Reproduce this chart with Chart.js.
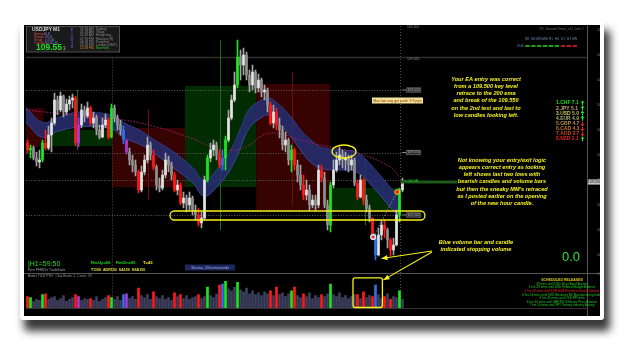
<!DOCTYPE html>
<html><head><meta charset="utf-8">
<script src="https://cdn.jsdelivr.net/npm/chart.js@4.4.1/dist/chart.umd.min.js"></script>
<style>
html,body{margin:0;padding:0;background:#fff;width:625px;height:340px;overflow:hidden}
#frame{position:absolute;left:20px;top:21px;width:576px;height:291px;padding:4px;background:#fff;box-shadow:5px 10px 9px 1px rgba(0,0,0,0.78);border-radius:3px}
#inner{position:relative;width:576px;height:291px;background:#000}
canvas{display:block}
</style></head><body>
<div id="frame"><div id="inner"><canvas id="c" width="576" height="291"></canvas></div></div>
<script>
// ---------------- DATA ----------------
const firstOpen = 109.5576;
const closes = [109.552,109.5536,109.5456,109.5424,109.544,109.5576,109.5536,109.564,109.5736,109.592,
 109.584,109.5952,109.5824,109.5888,109.592,109.5936,109.5576,109.572,109.584,109.5792,
 109.5856,109.5736,109.5776,109.568,109.5624,109.572,109.576,109.5624,109.5856,109.5776,
 109.572,109.568,109.560,109.5504,109.544,109.540,109.5344,109.520,109.5344,109.544,
 109.556,109.548,109.5384,109.524,109.5216,109.532,109.544,109.540,109.532,109.520,
 109.524,109.5096,109.5136,109.508,109.5136,109.504,109.500,109.4936,109.4976,109.528,
 109.5456,109.552,109.556,109.548,109.540,109.5456,109.560,109.5776,109.592,109.604,
 109.6264,109.620,109.628,109.612,109.604,109.6144,109.6016,109.608,109.5984,109.600,
 109.588,109.5736,109.5824,109.572,109.568,109.556,109.560,109.544,109.552,109.540,
 109.532,109.524,109.516,109.520,109.508,109.512,109.508,109.536,109.5296,109.508,
 109.492,109.524,109.536,109.544,109.548,109.544,109.5456,109.540,109.544,109.5256,
 109.5144,109.528,109.512,109.5056,109.4976,109.4824,109.468,109.484,109.492,109.488,
 109.480,109.472,109.476,109.500,109.520,109.5264];
const highs = [109.560,109.556,109.5552,109.5504,109.552,109.560,109.568,109.5712,109.5776,109.5976,
 109.5952,109.5984,109.596,109.5928,109.5952,109.5968,109.5952,109.5776,109.5888,109.5872,
 109.5904,109.5872,109.5824,109.580,109.572,109.5776,109.5808,109.5776,109.5888,109.588,
 109.580,109.576,109.5712,109.560,109.5536,109.548,109.544,109.536,109.5392,109.548,
 109.5624,109.5584,109.552,109.540,109.5296,109.536,109.5496,109.5472,109.5424,109.5344,
 109.528,109.5256,109.5184,109.516,109.5184,109.5152,109.508,109.5056,109.5024,109.5312,
 109.548,109.5576,109.560,109.5584,109.552,109.552,109.5632,109.584,109.596,109.6144,
 109.640,109.632,109.6336,109.6304,109.616,109.620,109.616,109.6128,109.6096,109.604,
 109.6016,109.5904,109.588,109.5856,109.5776,109.5712,109.5664,109.5616,109.556,109.5536,
 109.544,109.540,109.532,109.528,109.524,109.516,109.516,109.540,109.540,109.5344,
 109.512,109.5264,109.544,109.5504,109.5544,109.552,109.5504,109.548,109.548,109.5456,
 109.528,109.532,109.5296,109.516,109.508,109.4976,109.4848,109.4896,109.496,109.496,
 109.4896,109.4816,109.4816,109.504,109.5216,109.5296];
const lows = [109.5496,109.5456,109.544,109.5392,109.5376,109.5424,109.552,109.552,109.5504,109.572,
 109.580,109.5824,109.5784,109.580,109.584,109.5856,109.5552,109.5544,109.5696,109.5744,
 109.5776,109.572,109.5696,109.564,109.5608,109.5616,109.5696,109.5608,109.5616,109.5744,
 109.568,109.564,109.5568,109.5488,109.540,109.5344,109.5312,109.5176,109.5184,109.532,
 109.5416,109.544,109.536,109.520,109.5184,109.520,109.5296,109.5344,109.528,109.5184,
 109.516,109.508,109.5056,109.5024,109.504,109.500,109.496,109.4912,109.4896,109.496,
 109.5264,109.5424,109.5472,109.544,109.5376,109.536,109.536,109.5584,109.576,109.5904,
 109.6016,109.608,109.612,109.608,109.5984,109.600,109.5976,109.5984,109.5944,109.592,
 109.5824,109.572,109.5696,109.568,109.5616,109.552,109.5504,109.540,109.5344,109.536,
 109.5264,109.520,109.512,109.512,109.504,109.5056,109.504,109.5056,109.5264,109.5056,
 109.488,109.4864,109.5216,109.5344,109.540,109.5376,109.536,109.5344,109.536,109.5232,
 109.512,109.5136,109.508,109.5024,109.4944,109.480,109.464,109.4672,109.480,109.4816,
 109.4736,109.4672,109.468,109.4752,109.4944,109.5184];
const volumes = [60,55,35,45,40,70,75,45,55,60, 40,50,65,35,45,55,70,60,40,50,
 45,50,40,60,35,45,55,65,55,45, 60,40,70,75,50,60,45,105,65,55,
 70,45,85,60,50,65,45,55,40,80, 60,70,50,65,45,55,60,70,50,60,
 110,65,55,75,120,125,140,100,90,110, 135,95,85,105,75,90,70,80,65,85,
 75,90,65,110,70,80,60,75,90,110, 65,55,75,60,80,50,65,55,70,60,
 75,125,70,60,80,55,65,50,60,70, 70,50,85,55,65,60,120,70,50,60,
 75,45,60,55,90,45];
const redBars = [0,6,16,21,27,37,42,49,51,57,64,81,83,89,92,98,110,112,115,119,121];
const greenBars = [1,5,28,60,66,70,88,101,124];
const blueBars = [32,65,116];
const purpleBars = [17,33];

const emaX = [-0.5,5,10,16,21,28,32,38,43,49,55,59,64,68,71,74,78,80,83,88,91,94,98,105,110,116,121,124];
const emaUpper = [109.586,109.574,109.578,109.582,109.582,109.580,109.574,109.567,109.559,109.550,109.538,109.528,109.539,109.553,109.569,109.585,109.592,109.594,109.590,109.578,109.568,109.561,109.554,109.552,109.550,109.536,109.522,109.514];
const emaLower = [109.574,109.562,109.567,109.570,109.571,109.569,109.562,109.556,109.548,109.537,109.526,109.515,109.525,109.538,109.554,109.570,109.578,109.580,109.575,109.562,109.552,109.543,109.537,109.536,109.534,109.520,109.506,109.498];
const ema200X = [-0.5,15.5,32,43,54.5,62.5,69,74,78,81,86,91,97.5,110,121,124];
const ema200 = [109.584,109.580,109.576,109.5704,109.5616,109.5536,109.552,109.556,109.5632,109.5656,109.564,109.560,109.556,109.5496,109.5384,109.5304];

const sessStart = [-0.5,7,28.2,52.5,76.2,100.8];
const sessEnd   = [5.3,28.2,52.5,76.2,100.8,124.2];
const sessHigh  = [109.5856,109.568,109.5696,109.6032,109.6048,109.5216];
const sessLow   = [109.5544,109.5552,109.5224,109.5224,109.504,109.504];
const sessBull  = [false,true,false,true,false,true];
const sessLineX   = [16.5,40.2,64.2,88.2,112.5];
const sessLineTop = [109.600,109.584,109.640,109.6144,109.544];
const sessLineBot = [109.552,109.512,109.488,109.508,109.492];
const sessLineBull= [true,false,true,false,true];

const keyLevels = [109.600,109.550,109.500];
const gridLevels = [109.528];
const topLevel = 109.626;

const priceTicks = [109.648,109.638,109.628,109.618,109.608,109.598,109.588,109.578,109.568,109.558,
 109.548,109.538,109.528,109.518,109.508,109.498,109.488,109.478,109.468,109.458];
const volTicks = [179];
const timeLabels = ['12 Apr 17:13','12 Apr 17:19','12 Apr 17:25','12 Apr 17:31','12 Apr 17:37','12 Apr 17:43','12 Apr 17:49',
 '12 Apr 17:55','12 Apr 18:01','12 Apr 18:07','12 Apr 18:13','12 Apr 18:19','12 Apr 18:25','12 Apr 18:31',
 '12 Apr 18:37','12 Apr 18:43','12 Apr 18:49','12 Apr 18:55','12 Apr 19:01','12 Apr 19:07','12 Apr 19:13'];

const strengthNames = ['1.CHF 7.1','2.JPY 5.1','3.USD 5.0','4.EUR 4.9','5.GBP 4.7','6.CAD 4.3','7.AUD 2.7','8.NZD 2.1'];
const strengthUp = [true,true,true,true,false,false,false,true];
const timeframes = ['M1','M5','M15','M30','H1','H4','D1','W1','MN'];
const tfBull = [true,true,true,true,true,true,false,false,false];

// ---------------- BUILD ----------------
const N = closes.length;
const opens = closes.map((c,i)=> i===0 ? firstOpen : closes[i-1]);
function markColor(i){
  if (redBars.includes(i)) return '#ff1a1a';
  if (greenBars.includes(i)) return '#1ee61e';
  if (blueBars.includes(i)) return '#2f72e6';
  if (purpleBars.includes(i)) return '#a83ad6';
  return null;
}
const bodyColors = closes.map((c,i)=> markColor(i) || (c >= opens[i] ? '#e4e4e4' : '#8e8e8e'));
const wickColors = closes.map((c,i)=> markColor(i) || '#a6a6a6');
const volColors = volumes.map((v,i)=> markColor(i) || '#3d3f5e');

const F = '"Liberation Sans", Arial, sans-serif';
const fnt = (sz, w='normal', st='normal') => `${st} ${w} ${sz}px ${F}`;

function T(ctx, s, x, y, sz, col, align='left', w='normal', st='normal'){
  ctx.font = fnt(sz,w,st); ctx.fillStyle = col; ctx.textAlign = align; ctx.textBaseline = 'middle';
  ctx.fillText(s, x, y);
}
function arrow(ctx, x0,y0,x1,y1, col){
  ctx.strokeStyle = col; ctx.fillStyle = col; ctx.lineWidth = 1.1;
  ctx.beginPath(); ctx.moveTo(x0,y0); ctx.lineTo(x1,y1); ctx.stroke();
  const a = Math.atan2(y1-y0, x1-x0), L = 6, W = 2.6;
  ctx.beginPath(); ctx.moveTo(x1,y1);
  ctx.lineTo(x1 - L*Math.cos(a) + W*Math.sin(a), y1 - L*Math.sin(a) - W*Math.cos(a));
  ctx.lineTo(x1 - L*Math.cos(a) - W*Math.sin(a), y1 - L*Math.sin(a) + W*Math.cos(a));
  ctx.closePath(); ctx.fill();
}
function rrect(ctx, x, y, w, h, r){
  ctx.beginPath();
  ctx.moveTo(x+r,y); ctx.lineTo(x+w-r,y); ctx.arcTo(x+w,y,x+w,y+r,r);
  ctx.lineTo(x+w,y+h-r); ctx.arcTo(x+w,y+h,x+w-r,y+h,r);
  ctx.lineTo(x+r,y+h); ctx.arcTo(x,y+h,x,y+h-r,r);
  ctx.lineTo(x,y+r); ctx.arcTo(x,y,x+r,y,r); ctx.closePath();
}

const bgPlugin = {
  id: 'bg',
  beforeDatasetsDraw(chart){
    const {ctx, chartArea: ca} = chart; const {x, y, yv} = chart.scales;
    ctx.save();
    for (let k=0;k<sessStart.length;k++){
      const x0 = x.getPixelForValue(sessStart[k]), x1 = x.getPixelForValue(sessEnd[k]);
      const y0 = y.getPixelForValue(sessHigh[k]), y1 = y.getPixelForValue(sessLow[k]);
      ctx.fillStyle = sessBull[k] ? '#012c01' : '#360202';
      ctx.fillRect(x0, y0, x1-x0, y1-y0);
    }
    ctx.strokeStyle = '#2a302a'; ctx.lineWidth = 1.5;
    let yy = y.getPixelForValue(topLevel);
    ctx.beginPath(); ctx.moveTo(ca.left, yy); ctx.lineTo(ca.right, yy); ctx.stroke();
    ctx.setLineDash([1,1.6]); ctx.lineWidth = 1; ctx.strokeStyle = '#5c5c5c';
    const xEnd = x.getPixelForValue(125.2);
    keyLevels.concat(gridLevels).forEach(p=>{
      const py = Math.round(y.getPixelForValue(p))+0.5;
      ctx.beginPath(); ctx.moveTo(ca.left, py); ctx.lineTo(xEnd, py); ctx.stroke();
    });
    ctx.strokeStyle = '#4c4c4c'; ctx.setLineDash([1,2]);
    let vx = Math.round(x.getPixelForValue(28.2))+0.5;
    ctx.beginPath(); ctx.moveTo(vx, y.getPixelForValue(topLevel)); ctx.lineTo(vx, yv.bottom); ctx.stroke();
    vx = Math.round(x.getPixelForValue(124.2))+0.5;
    ctx.beginPath(); ctx.moveTo(vx, ca.top); ctx.lineTo(vx, yv.bottom); ctx.stroke();
    ctx.setLineDash([]);
    for (let k=0;k<sessLineX.length;k++){
      const sx = Math.round(x.getPixelForValue(sessLineX[k]))+0.5;
      ctx.strokeStyle = sessLineBull[k] ? '#1d6a1d' : '#6e1010';
      ctx.beginPath(); ctx.moveTo(sx, y.getPixelForValue(sessLineTop[k])); ctx.lineTo(sx, y.getPixelForValue(sessLineBot[k])); ctx.stroke();
    }
    ctx.strokeStyle = '#555'; ctx.lineWidth = 1;
    const sy = Math.round(yv.top)+0.5;
    ctx.beginPath(); ctx.moveTo(0, sy); ctx.lineTo(chart.width, sy); ctx.stroke();
    const rx = Math.round(ca.right)+0.5;
    ctx.beginPath(); ctx.moveTo(rx, 0); ctx.lineTo(rx, chart.height); ctx.stroke();
    ctx.strokeStyle = '#333';
    const by = Math.round(yv.bottom)+0.5;
    ctx.beginPath(); ctx.moveTo(ca.left, by); ctx.lineTo(ca.right, by); ctx.stroke();
    ctx.restore();
  }
};

const annPlugin = {
  id: 'ann',
  afterDraw(chart){
    const {ctx, chartArea: ca} = chart; const {x, y, yv} = chart.scales;
    const YEL = '#f6f21c';
    ctx.save();
    ctx.strokeStyle = YEL; ctx.lineWidth = 1.3;
    ctx.beginPath(); ctx.ellipse(x.getPixelForValue(105.5), y.getPixelForValue(109.5508), 12, 6.5, 0, 0, Math.PI*2); ctx.stroke();
    const sx0 = x.getPixelForValue(47.5), sx1 = x.getPixelForValue(132.5), scy = y.getPixelForValue(109.4996);
    rrect(ctx, sx0, scy-4.5, sx1-sx0, 9, 4.5); ctx.stroke();
    const vx0 = x.getPixelForValue(108.5), vx1 = x.getPixelForValue(118.3), vy0 = yv.getPixelForValue(158);
    rrect(ctx, vx0, vy0, vx1-vx0, yv.bottom - vy0 - 0.5, 2); ctx.stroke();
    const lastY = y.getPixelForValue(closes[N-1]);
    ctx.strokeStyle = '#1b5a1b'; ctx.lineWidth = 3;
    ctx.beginPath(); ctx.moveTo(x.getPixelForValue(124.4), lastY); ctx.lineTo(457-24, lastY); ctx.stroke();
    T(ctx, '< 00:58', x.getPixelForValue(125.5), lastY-1.5, 4.2, '#2ee02e');
    const m1x = x.getPixelForValue(115.2), m1y = y.getPixelForValue(109.4824);
    const m2x = x.getPixelForValue(123.2), m2y = y.getPixelForValue(109.5184);
    ctx.strokeStyle = '#9a9a9a'; ctx.lineWidth = 0.8; ctx.setLineDash([1.5,1.5]);
    ctx.beginPath(); ctx.moveTo(m1x, m1y); ctx.lineTo(m2x, m2y); ctx.stroke(); ctx.setLineDash([]);
    ctx.beginPath(); ctx.arc(m1x, m1y, 2.4, 0, Math.PI*2); ctx.fillStyle='#d04040'; ctx.fill();
    ctx.strokeStyle = '#ffffff'; ctx.lineWidth = 1.2; ctx.stroke();
    ctx.beginPath(); ctx.arc(m2x, m2y, 2.4, 0, Math.PI*2); ctx.fillStyle='#ee2020'; ctx.fill();
    ctx.strokeStyle = '#f0d020'; ctx.lineWidth = 1; ctx.stroke();
    arrow(ctx, 432-24, 251-25, x.getPixelForValue(118), y.getPixelForValue(109.4652), YEL);
    arrow(ctx, 432-24, 252-25, vx1+1, vy0+2, YEL);
    const lx = x.getPixelForValue(125.2);
    keyLevels.forEach(p=>{
      const py = y.getPixelForValue(p);
      ctx.strokeStyle = '#888'; ctx.lineWidth = 1;
      ctx.beginPath(); ctx.moveTo(lx-1, py); ctx.lineTo(lx+3, py); ctx.stroke();
      ctx.fillStyle = '#2c2c2c'; ctx.fillRect(lx+3, py-2.6, 15, 5.2);
      ctx.strokeStyle = '#555'; ctx.strokeRect(lx+3.5, py-2.1, 14, 4.2);
      T(ctx, p.toFixed(3), lx+10.5, py, 3.4, '#aaa', 'center');
    });
    T(ctx, '109.650', lx+4, 2.5, 3.4, '#888');
    T(ctx, topLevel.toFixed(3), lx+4, y.getPixelForValue(topLevel)+2, 3.4, '#888');
    ctx.fillStyle = '#c4c4c4'; ctx.fillRect(ca.right+1, lastY-2.6, 12, 5.2);
    T(ctx, closes[N-1].toFixed(3), ca.right+7, lastY, 3.4, '#000', 'center');

    ctx.translate(-24, -25);
    ctx.fillStyle = '#1a1a1a'; ctx.fillRect(26, 26, 93.5, 26);
    ctx.strokeStyle = '#4e4e4e'; ctx.lineWidth = 1; ctx.strokeRect(26.5, 26.5, 93, 25.5);
    T(ctx, 'USDJPY', 32, 30, 5, '#d8d8d8', 'left', 'bold');
    T(ctx, 'M1', 53, 30, 5, '#d8d8d8', 'left', 'bold');
    [['Spread','0.8'],['Range','16.8'],['Swap','L:0.05'],['Candle','00:00:10']].forEach((r,k)=>{
      T(ctx, r[0], 34, 34+k*2.9, 3.4, '#d04a4a');
      T(ctx, r[1], 45, 34+k*2.9, 3.4, '#8484ea');
    });
    T(ctx, '109.55', 36, 47.8, 8.5, '#22e022', 'left', 'bold');
    T(ctx, '3', 63, 48.5, 4.5, '#bbbbbb');
    ['P','I','V','O','T','S'].forEach((c,k)=> T(ctx, c, 72, 30+k*3.4, 3.6, '#5a5ad8', 'center', 'bold'));
    const tms = ['02:18 AM','01:18 AM','00:18 AM','07:18 PM','06:18 PM','05:18 PM','12:18 PM'];
    const cts = ['Sydney','Tokyo','HongKong','Moscow (R)','Frankfurt','London (GMT)','NewYork'];
    tms.forEach((t,k)=>{
      T(ctx, t, 80, 29.5+k*3.05, 3.2, k===6?'#e08a20':'#8c8c8c');
      T(ctx, cts[k], 96, 29.5+k*3.05, 3.2, k===6?'#22cc22':'#8c8c8c');
    });
    T(ctx, 'FX_SessionTimes_v12_Info \u00a9', 584, 29, 3.3, '#6e6e6e', 'right');
    timeframes.forEach((tf,k)=>{
      const cx = 527.5 + k*5.9;
      T(ctx, tf, cx, 39, 3.1, '#6f8fb8', 'center');
      ctx.strokeStyle = tfBull[k] ? '#22cc22' : '#dd2222'; ctx.lineWidth = 1.6;
      ctx.beginPath(); ctx.moveTo(cx-2.2, 46); ctx.lineTo(cx+2.2, 46); ctx.stroke();
    });
    T(ctx, 'EMA', 523.5, 46, 3, '#4a6aa0', 'right');
    strengthNames.forEach((s,k)=>{
      const cols = ['#22dd22','#c8a878','#c8c050','#a8b070','#b89050','#c87828','#d04818','#e02020'];
      const yy = 103 + k*5.15;
      T(ctx, s, 556, yy, 5, cols[k], 'left', 'bold');
      const up = strengthUp[k]; const c = up ? '#22ee22' : '#ee2222';
      ctx.strokeStyle = c; ctx.fillStyle = c; ctx.lineWidth = 1;
      ctx.beginPath(); ctx.moveTo(582.5, yy-2.2); ctx.lineTo(582.5, yy+2.2); ctx.stroke();
      ctx.beginPath();
      if (up){ ctx.moveTo(580.5, yy-0.3); ctx.lineTo(584.5, yy-0.3); ctx.lineTo(582.5, yy-2.6); }
      else { ctx.moveTo(580.5, yy+0.3); ctx.lineTo(584.5, yy+0.3); ctx.lineTo(582.5, yy+2.6); }
      ctx.closePath(); ctx.fill();
    });
    ctx.fillStyle = '#efe39a'; ctx.fillRect(372, 97.5, 51, 6);
    T(ctx, 'Max last avg got profit: 9.9 pips', 397.5, 100.6, 3.5, '#9a2a00', 'center');
    const c1 = ['Your EA entry was correct','from a 109.500 key level','retrace to the 200 ema','and break of the 109.550','on the 2nd test and last to','low candles looking left.'];
    c1.forEach((s,k)=> T(ctx, s, 486, 79+k*7.25, 5.6, YEL, 'center', 'bold', 'italic'));
    const c2 = ['Not knowing your entry/exit logic','appears correct entry as looking','left shows last two lows with','bearish candles and volume bars',"but then the sneaky MM's retraced",'as I posted earlier on the opening','of the new hour candle.'];
    c2.forEach((s,k)=> T(ctx, s, 502, 160.5+k*7.15, 5.6, YEL, 'center', 'bold', 'italic'));
    T(ctx, 'Blue volume bar and candle', 476, 242, 5.6, YEL, 'center', 'bold', 'italic');
    T(ctx, 'indicated stopping volume', 476, 249.5, 5.6, YEL, 'center', 'bold', 'italic');
    T(ctx, '0.0', 580, 257, 13, '#2ee02e', 'right');
    T(ctx, '|H1=59:50', 28, 264.5, 7, '#22dd22');
    T(ctx, 'Free FFRKVx TradeStore', 28, 270.3, 3.3, '#a0a0a0');
    T(ctx, 'RevUp=69', 91, 262.5, 4, '#22dd22', 'left', 'bold');
    T(ctx, 'RevDn=55', 116, 262.5, 4, '#22dd22', 'left', 'bold');
    T(ctx, 'T=43', 143, 262.5, 4.2, '#f0f020', 'left', 'bold');
    T(ctx, 'T1150  ADR150  SA150  SSA150', 91, 269.5, 3.6, '#e8e030', 'left', 'bold');
    ctx.fillStyle = '#1c2760'; ctx.fillRect(185, 264.5, 50, 6);
    T(ctx, '30-ema, 200 ema trends', 210, 267.6, 3.5, '#b0b8e0', 'center');
    T(ctx, 'Better TICK PTH   ChartScale: 2, Count: 19', 28, 275.8, 3.3, '#9a9a9a');
    T(ctx, 'SCHEDULED RELEASES', 562, 280, 3.5, '#e0d020', 'center', 'bold');
    const rel = ['49 mins until USD 30-yr Bond Auction','1 hrs 49 mins until USD Federal Budget Balance','1 hrs 49 mins until EUR ECB President Draghi Speaks',
      '6 hrs 14 mins until NZD Business NZ Manufacturing Index','6 hrs 24 mins until USD PPI m/m','6 hrs 44 mins until GBP RICS House Price Balance','7 hrs 54 mins until JPY Tertiary Industry Activity'];
    rel.forEach((s,k)=> T(ctx, s, 562, 284+k*3.6, 3.1, k===2?'#ee2020':'#22cc22', 'center'));
    ctx.restore();
  }
};

const candleData = closes.map((c,i)=>({x:i, y:[opens[i], c]}));
const wickData = closes.map((c,i)=>({x:i, y:[lows[i], highs[i]]}));
const volData = volumes.map((v,i)=>({x:i, y:v}));

new Chart(document.getElementById('c'), {
  type: 'bar',
  data: { datasets: [
    { type:'line', data: emaX.map((v,k)=>({x:v, y:emaUpper[k]})), yAxisID:'y', borderColor:'#3b4894', borderWidth:1, pointRadius:0, tension:0.4, order:10 },
    { type:'line', data: emaX.map((v,k)=>({x:v, y:emaLower[k]})), yAxisID:'y', borderColor:'#3b4894', borderWidth:1, pointRadius:0, tension:0.4, fill:'-1', backgroundColor:'rgba(38,46,112,0.88)', order:9 },
    { type:'line', data: ema200X.map((v,k)=>({x:v, y:ema200[k]})), yAxisID:'y', borderColor:'#a3206e', borderWidth:1, borderDash:[1.5,1.5], pointRadius:0, tension:0.4, order:8 },
    { data: wickData, yAxisID:'y', backgroundColor: wickColors, barThickness:1, grouped:false, order:3 },
    { data: candleData, yAxisID:'y', backgroundColor: bodyColors, barThickness:2, minBarLength:1, grouped:false, order:2 },
    { data: volData, yAxisID:'yv', backgroundColor: volColors, barThickness:2, grouped:false, order:1 }
  ]},
  options: {
    responsive:false, animation:false, devicePixelRatio:1,
    layout:{ padding:{ left:2, top:1, right:0, bottom:0 } },
    plugins:{ legend:{display:false}, tooltip:{enabled:false} },
    scales:{
      x:{ type:'linear', offset:false, min:-0.5, max:186.5, grid:{display:false, offset:false}, border:{display:false},
          afterBuildTicks(s){ s.ticks = timeLabels.map((t,k)=>({value:k*6})); },
          afterFit(s){ s.height = 8; s.paddingLeft = 0; s.paddingRight = 0; },
          ticks:{ color:'#7a7a7a', font:{size:3.6, family:F}, maxRotation:0, autoSkip:false, padding:1, align:'start',
                  callback:(v)=> timeLabels[Math.round(v/6)] } },
      y:{ position:'right', stack:'p', stackWeight:7, min:109.4538, max:109.6512, grid:{display:false}, border:{display:false},
          afterBuildTicks(s){ s.ticks = priceTicks.map(v=>({value:v})); },
          afterFit(s){ s.width = 13; s.paddingTop = 0; s.paddingBottom = 0; },
          ticks:{ color:'#8a8a8a', font:{size:3.6, family:F}, padding:2, callback:(v)=> v.toFixed(3) } },
      yv:{ position:'right', stack:'p', stackWeight:1, min:0, max:185, grid:{display:false}, border:{display:false},
          afterBuildTicks(s){ s.ticks = volTicks.map(v=>({value:v})); },
          afterFit(s){ s.width = 13; s.paddingTop = 0; s.paddingBottom = 0; },
          ticks:{ color:'#8a8a8a', font:{size:3.6, family:F}, padding:2 } }
    }
  },
  plugins:[bgPlugin, annPlugin]
});
</script>
</body></html>
